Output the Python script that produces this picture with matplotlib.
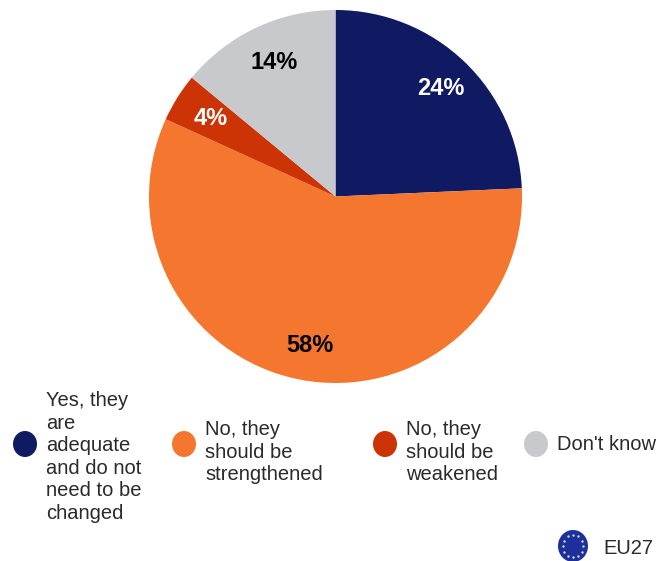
import numpy as np
import matplotlib
matplotlib.use('Agg')
import matplotlib.pyplot as plt
from matplotlib.patches import Ellipse

plt.rcParams['font.family'] = ['Liberation Sans', 'DejaVu Sans']

categories = ["Yes, they\nare\nadequate\nand do not\nneed to be\nchanged", "No, they\nshould be\nstrengthened", "No, they\nshould be\nweakened", "Don't know"]
values = [24.3, 57.5, 4.2, 14]
colors = ['#101a63', '#f5762e', '#cc3305', '#c8c9cd']
labels = ['24%', '58%', '4%', '14%']
label_colors = ['white', 'black', 'white', 'black']
eu_label = 'EU27'

W, H = 656, 561
fig = plt.figure(figsize=(W/100, H/100), dpi=100)
cx, cy, r = 335.5, 196.5, 186.5
ax = fig.add_axes([(cx-r)/W, 1-(cy+r)/H, 2*r/W, 2*r/H])
wedges, _ = ax.pie(values, colors=colors, startangle=90, counterclock=False, radius=1)
ax.set_xlim(-1, 1); ax.set_ylim(-1, 1); ax.set_aspect('equal')

label_pos = [(441, 88), (310, 345), (211, 118), (274, 62)]
over = fig.add_axes([0, 0, 1, 1]); over.set_xlim(0, W); over.set_ylim(H, 0); over.axis('off')
for (x, y), t, c in zip(label_pos, labels, label_colors):
    over.text(x, y, t, ha='center', va='center', fontsize=17, fontweight='bold', color=c)

legend_marker = [(25, 444), (184, 444), (385, 444), (536, 444)]
legend_text = [(46, 457), (205, 452), (406, 452), (557, 444)]
for (mx, my), (tx, ty), cat, col in zip(legend_marker, legend_text, categories, colors):
    over.add_patch(Ellipse((mx, my), 24, 26, color=col, lw=0))
    over.text(tx, ty, cat, ha='left', va='center', fontsize=14.5, color='#2a2a2a', linespacing=1.24)

over.add_patch(Ellipse((573, 546), 30, 32, color='#1d2f9c', lw=0))
theta = np.arange(12) * np.pi / 6
over.scatter(573 + 10*np.cos(theta), 546 + 11*np.sin(theta), s=3, color='#d8d8c0', lw=0)
over.text(603, 548, eu_label, ha='left', va='center', fontsize=14.5, color='#2a2a2a')

fig.savefig('out.png', dpi=100)
